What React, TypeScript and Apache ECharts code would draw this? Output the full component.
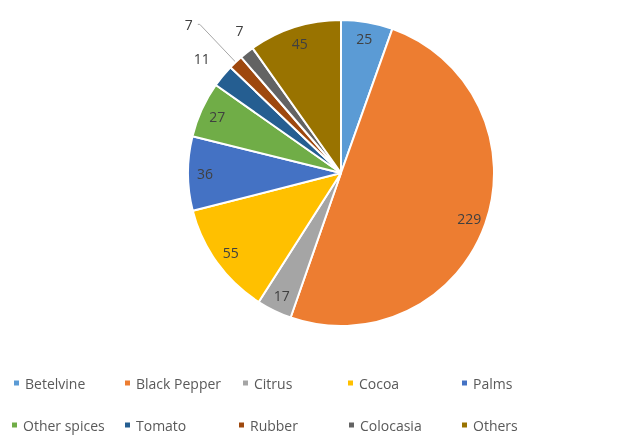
import React, { useEffect, useRef } from "react";
import * as echarts from "echarts";

const categories = ["Betelvine", "Black Pepper", "Citrus", "Cocoa", "Palms", "Other spices", "Tomato", "Rubber", "Colocasia", "Others"];
const values = [25, 229, 17, 55, 36, 27, 11, 7, 7, 45];
const colors = ["#5B9BD5", "#ED7D31", "#A5A5A5", "#FFC000", "#4472C4", "#70AD47", "#255E91", "#9E480E", "#636363", "#997300"];
const outsideLabels = ["Tomato", "Rubber", "Colocasia"];
const outsideLineLen = [22, 52, 18];
const outsideShiftX = [9, 0, 13];
const outsideShiftY = [-3, 0, -8];
const legendLeft = [7, 118, 236, 341, 455, 5, 118, 232, 342, 455];
const legendTop = [371, 371, 371, 371, 371, 413, 413, 413, 413, 413];

export default function App() {
  const ref = useRef<HTMLDivElement>(null);
  useEffect(() => {
    const chart = echarts.init(ref.current!, null, { renderer: "svg" });
    const mainData = categories.map((name, i) => {
      const k = outsideLabels.indexOf(name);
      const outside = k >= 0;
      const isRubber = name === "Rubber";
      return {
        name,
        value: values[i],
        itemStyle: { color: colors[i] },
        label: outside
          ? { show: true, position: "outside", formatter: "{c}", color: "#404040", fontSize: 14, fontFamily: "Open Sans" }
          : { show: false },
        labelLine: outside
          ? { show: isRubber, length: outsideLineLen[k], length2: isRubber ? 2 : 0, lineStyle: { color: "#A6A6A6", width: 1 } }
          : { show: false },
      };
    });
    const overlayData = categories.map((name, i) => ({
      name,
      value: values[i],
      label: { show: !outsideLabels.includes(name) },
    }));
    chart.setOption({
      animation: false,
      color: colors,
      legend: categories.map((name, i) => ({
        data: [name],
        left: legendLeft[i],
        top: legendTop[i],
        itemWidth: 7,
        itemHeight: 7,
        icon: "rect",
        selectedMode: false,
        textStyle: { color: "#595959", fontSize: 14, fontFamily: "Open Sans" },
      })),
      series: [
        {
          type: "pie",
          center: [341, 173],
          radius: 153,
          startAngle: 90,
          clockwise: true,
          avoidLabelOverlap: false,
          labelLayout: (params: any) => {
            const k = outsideLabels.indexOf(categories[params.dataIndex]);
            if (k < 0) return { hideOverlap: false };
            return { hideOverlap: false, dx: outsideShiftX[k], dy: outsideShiftY[k] };
          },
          itemStyle: { borderColor: "#ffffff", borderWidth: 2 },
          data: mainData,
        },
        {
          type: "pie",
          center: [341, 173],
          radius: [113, 153],
          startAngle: 90,
          clockwise: true,
          silent: true,
          legendHoverLink: false,
          avoidLabelOverlap: false,
          labelLayout: { hideOverlap: false },
          itemStyle: { color: "rgba(0,0,0,0)", borderWidth: 0 },
          label: { position: "inside", color: "#404040", fontSize: 14, fontFamily: "Open Sans", formatter: "{c}" },
          labelLine: { show: false },
          emphasis: { disabled: true },
          data: overlayData,
        },
      ],
    });
    return () => chart.dispose();
  }, []);
  return <div ref={ref} style={{ position: "fixed", left: 0, top: 0, width: 627, height: 445 }} />;
}
